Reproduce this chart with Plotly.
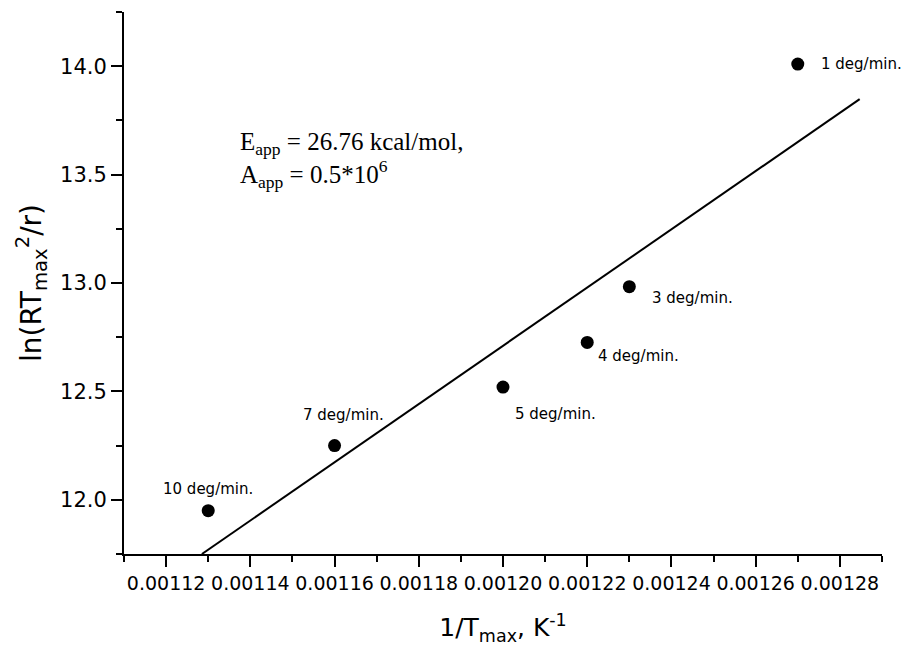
import plotly.graph_objects as go

# Data
inv_T = [0.00113, 0.00116, 0.00120, 0.00122, 0.00123, 0.00127]
ln_val = [11.95, 12.25, 12.52, 12.726, 12.983, 14.01]
rate_labels = ["10 deg/min.", "7 deg/min.", "5 deg/min.", "4 deg/min.", "3 deg/min.", "1 deg/min."]

# Linear (Arrhenius-type) fit line endpoints
fit_x = [0.0011285, 0.0012847]
fit_y = [11.75, 13.848]

x_range = [0.00111, 0.00129]
y_range = [11.75, 14.25]

# label offsets in pixels (style only): (xshift, yshift, xanchor)
label_style = {
    "10 deg/min.": (0, 22, "center"),
    "7 deg/min.": (9, 31, "center"),
    "5 deg/min.": (10, -27, "left"),
    "4 deg/min.": (9, -14, "left"),
    "3 deg/min.": (21, -11, "left"),
    "1 deg/min.": (21, 0, "left"),
}

sans = "DejaVu Sans"
serif = "Liberation Serif"

fig = go.Figure()
fig.add_trace(go.Scatter(
    x=fit_x, y=fit_y, mode="lines",
    line=dict(color="black", width=2), showlegend=False, hoverinfo="skip",
))
fig.add_trace(go.Scatter(
    x=inv_T, y=ln_val, mode="markers",
    marker=dict(color="black", size=13, symbol="circle"), showlegend=False,
))

for xv, yv, lab in zip(inv_T, ln_val, rate_labels):
    dx, dy, anc = label_style[lab]
    fig.add_annotation(
        x=xv, y=yv, xref="x", yref="y", text=lab, showarrow=False,
        xanchor=anc, yanchor="middle", xshift=dx, yshift=dy,
        font=dict(family=sans, size=15, color="black"),
    )

fig.add_annotation(
    x=0.150, y=0.79, xref="paper", yref="paper", xanchor="left", yanchor="top",
    align="left", showarrow=False,
    text="E<sub>app</sub> = 26.76 kcal/mol,<br>A<sub>app</sub> = 0.5*10<sup>6</sup>",
    font=dict(family=serif, size=25, color="black"),
)

axis_common = dict(
    showline=True, linecolor="black", linewidth=2, showgrid=False, zeroline=False,
    ticks="outside", ticklen=11, tickwidth=2, tickcolor="black",
    tickangle=0,
)

fig.update_xaxes(
    range=x_range, tick0=0.00112, dtick=0.00002, tickformat=".5f",
    tickfont=dict(family=sans, size=19, color="black"),
    minor=dict(dtick=0.00001, ticks="outside", ticklen=6, tickwidth=2, tickcolor="black"),
    title=dict(text="1/T<sub>max</sub>, K<sup>-1</sup>", font=dict(family=sans, size=25, color="black"), standoff=26),
    **axis_common,
)
fig.update_yaxes(
    range=y_range, tick0=12.0, dtick=0.5, tickformat=".1f",
    tickfont=dict(family=sans, size=21, color="black"),
    minor=dict(dtick=0.25, ticks="outside", ticklen=6, tickwidth=2, tickcolor="black"),
    title=dict(text="ln(RT<sub>max</sub><sup>2</sup>/r)", font=dict(family=sans, size=28, color="black"), standoff=10),
    **axis_common,
)

fig.update_layout(
    width=901, height=653,
    margin=dict(l=124, r=19, t=12, b=99),
    paper_bgcolor="white", plot_bgcolor="white",
    showlegend=False,
)

fig.write_html("out.html")
